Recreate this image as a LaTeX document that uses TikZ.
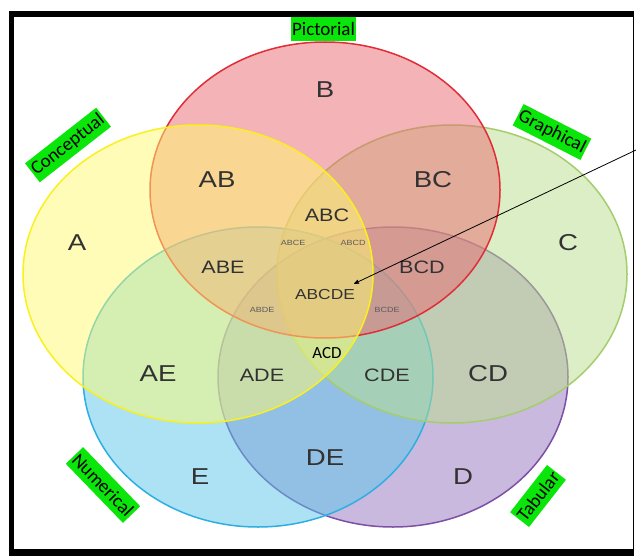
\documentclass[tikz,border=0pt]{standalone}
\usepackage{fontspec}
\usepackage{tikz}
\usetikzlibrary{arrows}

\newfontfamily\regionfont{Liberation Sans}[FakeStretch=1.2]
\newfontfamily\tagfont{Carlito}

\definecolor{fillA}{RGB}{255,251,113}
\definecolor{lineA}{RGB}{250,240,30}
\definecolor{fillB}{RGB}{233,105,113}
\definecolor{lineB}{RGB}{225,45,55}
\definecolor{fillC}{RGB}{187,223,141}
\definecolor{lineC}{RGB}{165,205,110}
\definecolor{fillD}{RGB}{151,117,191}
\definecolor{lineD}{RGB}{125,80,165}
\definecolor{fillE}{RGB}{91,199,235}
\definecolor{lineE}{RGB}{45,175,225}
\definecolor{tagGreen}{RGB}{10,230,10}
\definecolor{regionText}{RGB}{50,50,50}

\begin{document}
\begin{tikzpicture}[x=1pt, y=-1pt, >=stealth',
    set/.style={fill opacity=0.5, line width=1.5pt},
    big/.style={text=regionText, inner sep=1pt, font=\regionfont\fontsize{23pt}{23pt}\selectfont},
    mid/.style={text=regionText, inner sep=1pt, font=\regionfont\fontsize{18pt}{18pt}\selectfont},
    small/.style={text=regionText!80, inner sep=1pt, font=\regionfont\fontsize{7.5pt}{7.5pt}\selectfont},
    tag/.style={fill=tagGreen, text=black, inner xsep=1.5pt, inner ysep=1pt, minimum height=24pt,
                font=\tagfont\fontsize{19pt}{19pt}\selectfont}]

    % Page and frame
    \useasboundingbox[fill=white] (0,0) rectangle (636,556);
    \fill[black] (9,11) rectangle (634,556);
    \fill[white] (14,17) rectangle (633,549);

    % Sets {A, B, C, D, E}
    \draw[set, fill=fillD, draw=lineD] (393,377) ellipse [x radius=175pt, y radius=150pt];
    \draw[set, fill=fillE, draw=lineE] (258,377) ellipse [x radius=175pt, y radius=150pt];
    \draw[set, fill=fillC, draw=lineC] (452,274) ellipse [x radius=175pt, y radius=149pt];
    \draw[set, fill=fillB, draw=lineB] (325,190) ellipse [x radius=175pt, y radius=148pt];
    \draw[set, fill=fillA, draw=lineA] (198,274) ellipse [x radius=175pt, y radius=149pt];

    % Regions
    \node [big]   (a)     at (77,243)  {A};
    \node [big]   (b)     at (325,90)  {B};
    \node [big]   (c)     at (568,243) {C};
    \node [big]   (d)     at (463,477) {D};
    \node [big]   (e)     at (200,477) {E};
    \node [big]   (ab)    at (217,180) {AB};
    \node [big]   (bc)    at (433,180) {BC};
    \node [big]   (ae)    at (158,374) {AE};
    \node [big]   (cd)    at (488,374) {CD};
    \node [big]   (de)    at (325,458) {DE};
    \node [mid]   (abc)   at (327,215) {ABC};
    \node [mid]   (abe)   at (223,267) {ABE};
    \node [mid]   (bcd)   at (422,267) {BCD};
    \node [mid]   (ade)   at (262,375) {ADE};
    \node [mid]   (cde)   at (387,375) {CDE};
    \node [mid, font=\regionfont\fontsize{14.5pt}{14.5pt}\selectfont]
                  (abcde) at (325,295) {ABCDE};
    \node [small] (abce)  at (293,243) {ABCE};
    \node [small] (abcd)  at (353,243) {ABCD};
    \node [small] (abde)  at (262,310) {ABDE};
    \node [small] (bcde)  at (387,310) {BCDE};
    \node [text=black, inner sep=1pt, font=\tagfont\fontsize{17pt}{17pt}\selectfont]
                  (acd)   at (327,353) {ACD};

    % Representations
    \node [tag]                (pictorial)  at (323.5,29) {Pictorial};
    \node [tag, rotate=38]     (conceptual) at (68,145)   {Conceptual};
    \node [tag, rotate=-27]    (graphical)  at (552,132)  {Graphical};
    \node [tag, rotate=-46]    (numerical)  at (103,485)  {Numerical};
    \node [tag, rotate=52]     (tabular)    at (538,496)  {Tabular};

    % Pointer
    \coordinate (ptr) at (636,150);
    \draw [->, line width=0.8pt] (ptr) -- ([xshift=-2pt, yshift=5pt]abcde.north east);

\end{tikzpicture}
\end{document}
